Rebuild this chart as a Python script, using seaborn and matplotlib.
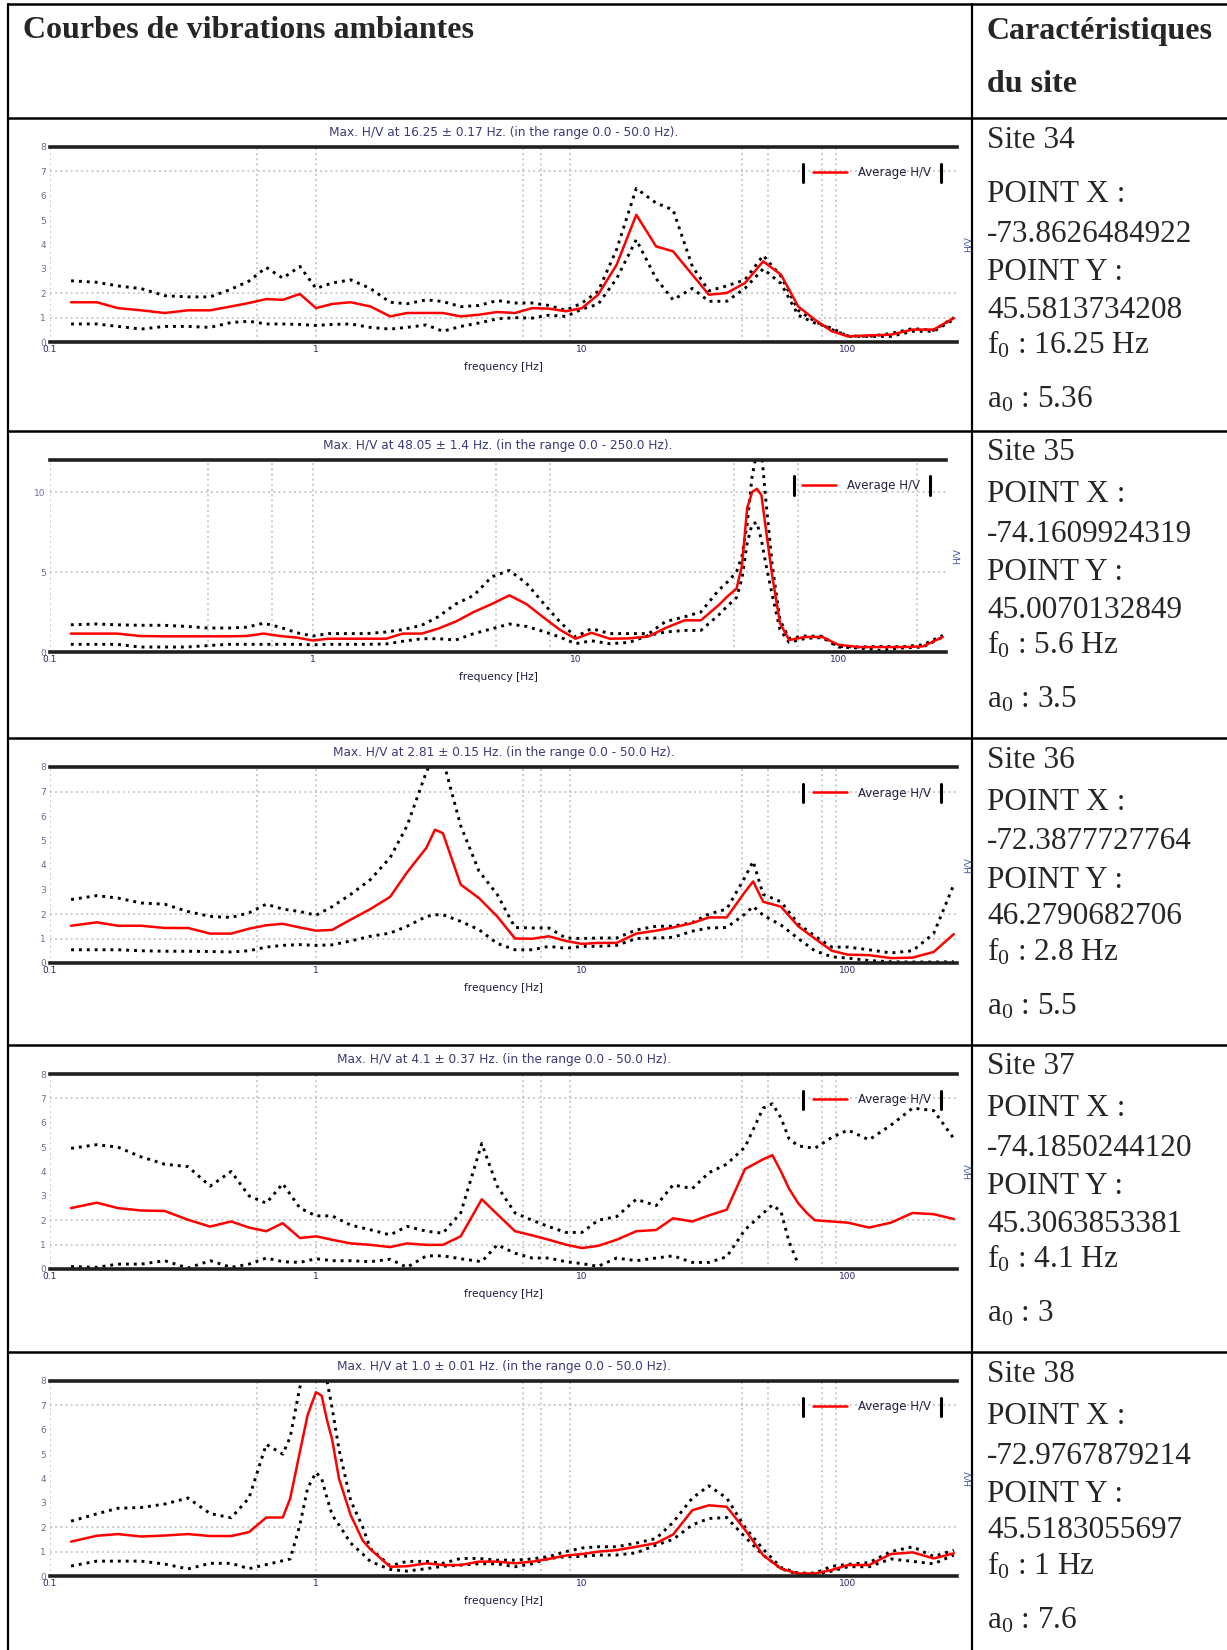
import numpy as np
import matplotlib
matplotlib.use('Agg')
import matplotlib.pyplot as plt
from matplotlib.lines import Line2D
from matplotlib.ticker import NullLocator
import seaborn as sns

nan = np.nan

# --- H/V curves (frequency in Hz, amplitude H/V) ---
freq_34 = [0.12, 0.15, 0.18, 0.22, 0.27, 0.33, 0.4, 0.48, 0.56, 0.65, 0.75, 0.87, 1.0, 1.15, 1.35, 1.6,
           1.9, 2.2, 2.6, 3.0, 3.5, 4.1, 4.8, 5.6, 6.5, 7.5, 8.7, 10, 11.5, 13.5, 16, 19, 22, 26, 30, 35,
           41, 48, 56, 65, 75, 87, 100, 120, 145, 175, 210, 250]
avg_34 = [1.63, 1.63, 1.39, 1.30, 1.19, 1.30, 1.30, 1.46, 1.60, 1.76, 1.73, 1.97, 1.39, 1.56, 1.63, 1.46,
          1.05, 1.19, 1.19, 1.19, 1.05, 1.12, 1.23, 1.19, 1.39, 1.37, 1.26, 1.39, 1.94, 3.17, 5.22, 3.92,
          3.72, 2.76, 1.94, 2.01, 2.42, 3.31, 2.76, 1.46, 0.92, 0.44, 0.23, 0.27, 0.30, 0.51, 0.51, 0.98]
hi_34 = [2.51, 2.45, 2.30, 2.19, 1.90, 1.85, 1.85, 2.17, 2.50, 3.06, 2.62, 3.10, 2.20, 2.42, 2.55, 2.20,
         1.63, 1.57, 1.73, 1.66, 1.45, 1.50, 1.70, 1.60, 1.60, 1.50, 1.30, 1.60, 2.08, 3.80, 6.30, 5.70,
         5.42, 3.10, 2.10, 2.30, 2.55, 3.55, 2.70, 1.30, 0.85, 0.51, 0.25, 0.23, 0.35, 0.55, 0.48, 1.00]
lo_34 = [0.74, 0.74, 0.64, 0.53, 0.64, 0.64, 0.60, 0.80, 0.85, 0.74, 0.74, 0.72, 0.68, 0.72, 0.74, 0.60,
         0.53, 0.60, 0.70, 0.44, 0.64, 0.78, 0.95, 1.00, 0.98, 1.10, 1.05, 1.35, 1.55, 2.60, 4.20, 2.60,
         1.73, 2.20, 1.67, 1.67, 2.20, 3.00, 2.40, 1.10, 0.78, 0.57, 0.23, 0.23, 0.23, 0.44, 0.44, 0.92]

freq_35 = [0.12, 0.15, 0.18, 0.22, 0.27, 0.33, 0.4, 0.48, 0.56, 0.65, 0.75, 0.87, 1.0, 1.15, 1.35, 1.6,
           1.9, 2.2, 2.6, 3.0, 3.5, 4.1, 4.8, 5.6, 6.5, 7.5, 8.7, 10, 11.5, 13.5, 16, 19, 22, 26, 30, 35,
           38, 41, 43, 45, 47, 49, 51, 53, 56, 60, 65, 75, 87, 100, 120, 145, 175, 210, 250]
avg_35 = [1.15, 1.15, 1.15, 1.0, 0.98, 0.98, 0.98, 0.98, 1.0, 1.15, 1.0, 0.9, 0.72, 0.83, 0.83, 0.83,
          0.83, 1.15, 1.15, 1.46, 1.9, 2.5, 3.0, 3.54, 3.0, 2.2, 1.4, 0.83, 1.2, 0.83, 0.85, 0.98, 1.5,
          1.98, 1.98, 2.92,
          3.5, 3.96, 5.4, 9.0, 10.0, 10.2, 9.8, 7.7, 4.8, 1.8, 0.75, 0.94, 0.94, 0.45, 0.31, 0.31, 0.31,
          0.35, 0.94]
hi_35 = [1.7, 1.75, 1.7, 1.67, 1.67, 1.6, 1.5, 1.5, 1.55, 1.8, 1.55, 1.2, 1.0, 1.15, 1.15, 1.15, 1.25,
         1.4, 1.67, 2.2, 3.0, 3.54, 4.7, 5.1, 4.3, 3.1, 1.9, 0.94, 1.46, 1.15, 1.15, 1.15, 1.9, 2.2, 2.5,
         3.85,
         4.4, 5.0, 6.0, 8.0, 11.0, 12.5, 12.5, 9.5, 5.5, 2.0, 0.85, 1.0, 0.98, 0.35, 0.31, 0.35, 0.33,
         0.45, 1.04]
lo_35 = [0.48, 0.48, 0.48, 0.31, 0.31, 0.31, 0.4, 0.48, 0.48, 0.48, 0.48, 0.48, 0.45, 0.48, 0.48, 0.48,
         0.5, 0.67, 0.83, 0.83, 0.75, 1.15, 1.45, 1.75, 1.6, 1.3, 0.94, 0.52, 0.7, 0.52, 0.6, 1.04, 1.25,
         1.35, 1.35, 2.3,
         2.9, 3.4, 4.6, 6.8, 8.0, 8.1, 7.0, 5.5, 3.6, 1.4, 0.6, 0.85, 0.9, 0.31, 0.25, 0.1, 0.25, 0.31,
         0.94]

freq_36 = [0.12, 0.15, 0.18, 0.22, 0.27, 0.33, 0.4, 0.48, 0.56, 0.65, 0.75, 0.87, 1.0, 1.15, 1.35, 1.6,
           1.9, 2.2, 2.6, 2.8, 3.0, 3.5, 4.1, 4.8, 5.6, 6.5, 7.5, 8.7, 10, 11.5, 13.5, 16, 19, 22, 26, 30,
           35, 41, 44, 48, 56, 65, 75, 87, 100, 120, 145, 175, 210, 250]
avg_36 = [1.52, 1.66, 1.52, 1.52, 1.43, 1.43, 1.2, 1.2, 1.4, 1.54, 1.6, 1.45, 1.32, 1.35, 1.77, 2.2,
          2.7, 3.7, 4.7, 5.44, 5.3, 3.2, 2.65, 1.9, 1.0, 0.99, 1.09, 0.9, 0.78, 0.82, 0.82, 1.2, 1.32,
          1.45, 1.63, 1.86, 1.86, 2.9, 3.33, 2.5, 2.3, 1.5, 1.0, 0.5, 0.34, 0.32, 0.2, 0.22, 0.45, 1.18]
hi_36 = [2.59, 2.75, 2.65, 2.45, 2.4, 2.1, 1.9, 1.86, 2.05, 2.4, 2.2, 2.1, 1.95, 2.3, 2.8, 3.4, 4.3,
         5.6, 7.8, 8.5, 8.3, 5.6, 3.75, 2.8, 1.45, 1.43, 1.43, 1.02, 1.0, 1.02, 1.02, 1.35, 1.5, 1.5,
         1.65, 2.0, 2.2, 3.5, 4.15, 2.8, 2.5, 1.6, 1.1, 0.65, 0.65, 0.54, 0.41, 0.5, 1.2, 3.2]
lo_36 = [0.54, 0.54, 0.54, 0.5, 0.48, 0.48, 0.47, 0.45, 0.5, 0.65, 0.72, 0.75, 0.72, 0.74, 0.9, 1.09,
         1.22, 1.5, 1.9, 1.97, 1.97, 1.7, 1.36, 0.8, 0.54, 0.54, 0.68, 0.6, 0.68, 0.68, 0.72, 1.0, 1.02,
         1.05, 1.3, 1.43, 1.45, 2.0, 2.31, 1.95, 1.55, 1.0, 0.5, 0.25, 0.2, 0.1, 0.05, 0.04, 0.04, 0.05]

freq_37 = [0.12, 0.15, 0.18, 0.22, 0.27, 0.33, 0.4, 0.48, 0.56, 0.65, 0.75, 0.87, 1.0, 1.15, 1.35, 1.6,
           1.9, 2.2, 2.6, 3.0, 3.5, 4.2, 4.8, 5.6, 6.5, 7.5, 8.7, 10, 11.5, 13.5, 16, 19, 22, 26, 30, 35,
           41, 48, 52, 56, 60, 65, 70, 75, 87, 100, 120, 145, 175, 210, 250]
avg_37 = [2.5, 2.72, 2.5, 2.4, 2.38, 2.02, 1.74, 1.95, 1.7, 1.55, 1.88, 1.27, 1.34, 1.2, 1.05, 0.99,
          0.9, 1.05, 0.99, 0.99, 1.34, 2.86, 2.25, 1.55, 1.38, 1.2, 1.0, 0.86, 0.95, 1.2, 1.55, 1.6,
          2.08, 1.95, 2.2, 2.43, 4.1, 4.5, 4.67, 4.0, 3.3, 2.7, 2.3, 2.0, 1.95, 1.9, 1.7, 1.9, 2.3, 2.25,
          2.05]
hi_37 = [4.95, 5.1, 5.0, 4.6, 4.3, 4.2, 3.4, 4.0, 3.0, 2.7, 3.5, 2.5, 2.18, 2.18, 1.8, 1.61, 1.4, 1.75,
         1.55, 1.47, 2.3, 5.15, 3.4, 2.3, 2.0, 1.74, 1.5, 1.5, 2.0, 2.15, 2.86, 2.6, 3.45, 3.3, 3.95, 4.3,
         5.0, 6.6, 6.78, 6.2, 5.35, 5.05, 5.0, 4.95, 5.4, 5.7, 5.3, 5.9, 6.6, 6.5, 5.35]
lo_37 = [0.1, 0.07, 0.2, 0.2, 0.34, 0.04, 0.34, 0.07, 0.2, 0.45, 0.3, 0.27, 0.42, 0.34, 0.34, 0.3, 0.4,
         0.07, 0.54, 0.54, 0.42, 0.3, 0.99, 0.65, 0.45, 0.45, 0.3, 0.22, 0.11, 0.45, 0.34, 0.45, 0.54,
         0.27, 0.27, 0.5, 1.61, 2.29, 2.63, 2.36, 1.13, 0.2, nan, nan, nan, nan, nan, nan, nan, nan, nan]

freq_38 = [0.12, 0.15, 0.18, 0.22, 0.27, 0.33, 0.4, 0.48, 0.56, 0.65, 0.75, 0.8, 0.87, 0.93, 1.0, 1.05,
           1.1, 1.15, 1.22, 1.35, 1.5, 1.6, 1.9, 2.2, 2.6, 3.0, 3.5, 4.1, 4.8, 5.6, 6.5, 7.5, 8.7, 10,
           11.5, 13.5, 16, 19, 22, 26, 30, 35, 41, 48, 56, 65, 75, 87, 100, 120, 145, 175, 210, 250]
avg_38 = [1.41, 1.65, 1.72, 1.62, 1.66, 1.72, 1.64, 1.64, 1.8, 2.4, 2.4, 3.18, 5.1, 6.6, 7.54, 7.4,
          6.4, 5.6, 4.0, 2.5, 1.45, 1.1, 0.38, 0.4, 0.52, 0.45, 0.45, 0.59, 0.59, 0.52, 0.59, 0.7, 0.84,
          0.9, 1.0, 1.06, 1.2, 1.35, 1.7, 2.7, 2.9, 2.84, 1.9, 0.85, 0.3, 0.1, 0.1, 0.25, 0.45, 0.45,
          0.9, 0.97, 0.72, 0.93]
hi_38 = [2.25, 2.55, 2.78, 2.81, 2.95, 3.2, 2.56, 2.39, 3.2, 5.4, 5.0, 5.7, 7.75, 8.5, 8.8, 8.5, 8.0,
         6.9, 5.2, 3.1, 2.0, 1.13, 0.42, 0.6, 0.6, 0.52, 0.72, 0.72, 0.65, 0.65, 0.7, 0.8, 1.0, 1.15,
         1.2, 1.2, 1.35, 1.54, 2.2, 3.2, 3.7, 3.2, 2.0, 1.1, 0.35, 0.12, 0.12, 0.4, 0.48, 0.55, 1.0,
         1.2, 0.8, 1.06]
lo_38 = [0.41, 0.61, 0.61, 0.61, 0.49, 0.29, 0.52, 0.52, 0.3, nan, nan, 0.7, 2.1, 3.6, 4.25, 4.0, 3.2,
         2.5, 2.1, 1.35, 0.9, 0.6, 0.27, 0.2, 0.3, 0.4, 0.45, 0.5, 0.5, 0.38, 0.5, 0.72, 0.79, 0.8,
         0.86, 0.86, 0.95, 1.27, 1.5, 2.1, 2.36, 2.4, 1.6, 0.86, 0.3, 0.07, 0.07, 0.2, 0.38, 0.38, 0.7,
         0.6, 0.5, 0.86]

# --- site characteristics (right column) ---
site_ids = ['34', '35', '36', '37', '38']
point_x = ['-73.8626484922', '-74.1609924319', '-72.3877727764', '-74.1850244120', '-72.9767879214']
point_y = ['45.5813734208', '45.0070132849', '46.2790682706', '45.3063853381', '45.5183055697']
f0_vals = ['16.25 Hz', '5.6 Hz', '2.8 Hz', '4.1 Hz', '1 Hz']
a0_vals = ['5.36', '3.5', '5.5', '3', '7.6']
plot_titles = [
    'Max. H/V at 16.25 \u00b1 0.17 Hz. (in the range 0.0 - 50.0 Hz).',
    'Max. H/V at 48.05 \u00b1 1.4 Hz. (in the range 0.0 - 250.0 Hz).',
    'Max. H/V at 2.81 \u00b1 0.15 Hz. (in the range 0.0 - 50.0 Hz).',
    'Max. H/V at 4.1 \u00b1 0.37 Hz. (in the range 0.0 - 50.0 Hz).',
    'Max. H/V at 1.0 \u00b1 0.01 Hz. (in the range 0.0 - 50.0 Hz).',
]

curves = [(freq_34, avg_34, hi_34, lo_34), (freq_35, avg_35, hi_35, lo_35),
          (freq_36, avg_36, hi_36, lo_36), (freq_37, avg_37, hi_37, lo_37),
          (freq_38, avg_38, hi_38, lo_38)]
for c in curves:
    assert len({len(v) for v in c}) == 1, [len(v) for v in c]

sns.set_style('white')
plt.rcParams['font.family'] = ['DejaVu Sans']
plt.rcParams['mathtext.fontset'] = 'custom'
plt.rcParams['mathtext.rm'] = 'Liberation Serif'
plt.rcParams['mathtext.it'] = 'Liberation Serif:italic'

W, H = 1227, 1650
fig = plt.figure(figsize=(W / 100, H / 100), dpi=100)
fig.patch.set_facecolor('white')


def fx(x):
    return x / W


def fy(y):
    return 1 - y / H


def hline(y, x0=8, x1=W, lw=1.8):
    fig.add_artist(Line2D([fx(x0), fx(x1)], [fy(y), fy(y)], color='black', lw=lw))


def vline(x, y0=4, y1=H, lw=1.6):
    fig.add_artist(Line2D([fx(x), fx(x)], [fy(y0), fy(y1)], color='black', lw=lw))


row_tops = [118, 431, 738, 1045, 1352]
col_x = 972

# table grid
hline(4)
for y in row_tops:
    hline(y)
vline(8)
vline(col_x)

serif = ['Liberation Serif', 'DejaVu Serif']
fig.text(fx(23), fy(31), 'Courbes de vibrations ambiantes', fontsize=23, fontweight='bold',
         family=serif, va='center')
fig.text(fx(987), fy(31), 'Caractéristiques', fontsize=23, fontweight='bold', family=serif, va='center')
fig.text(fx(987), fy(85), 'du site', fontsize=23, fontweight='bold', family=serif, va='center')

# text line offsets inside each row
line_off = [22, 64, 104, 142, 179, 214, 269]
extra_gap = [13, 0, 0, 0, 0]

for i, top in enumerate(row_tops):
    lines = ['Site ' + site_ids[i], 'POINT X :', point_x[i], 'POINT Y :', point_y[i],
             r'f$_\mathrm{0}$ : ' + f0_vals[i], r'a$_\mathrm{0}$ : ' + a0_vals[i]]
    for k, s in enumerate(lines):
        y = top + line_off[k] + (extra_gap[i] if k > 0 else 0)
        fig.text(fx(987), fy(y), s, fontsize=22.5, family=serif, va='center')

# per-plot axis settings
ymaxes = [8, 12, 8, 8, 8]
yticks_list = [list(range(9)), [0, 5, 10], list(range(9)), list(range(9)), list(range(9))]
hgrids = [[1, 2, 7], [5, 10], [1, 2, 7], [1, 2, 7], [1, 2, 7]]
vgrid_a = [0.1, 0.6, 1, 6, 7, 9, 40, 50, 80, 90]
vgrid_b = [0.1, 0.4, 0.7, 1, 5, 8, 40, 70, 200]
vgrids = [vgrid_a, vgrid_b, vgrid_a, vgrid_a, vgrid_a]
ax_right = [957, 946, 957, 957, 957]
ax_height = [195, 192, 196, 195, 195]

grid_kw = dict(color='#b9b9b9', lw=1.1, ls=(0, (1.2, 2.2)), zorder=0)

for i, top in enumerate(row_tops):
    freq, avg, hi, lo = curves[i]
    a_top = top + 29
    left = 50
    ax = fig.add_axes([fx(left), fy(a_top + ax_height[i]), (ax_right[i] - left) / W, ax_height[i] / H])
    ax.set_facecolor('white')

    for g in vgrids[i]:
        ax.axvline(g, **grid_kw)
    for g in hgrids[i]:
        ax.axhline(g, **grid_kw)

    sns.lineplot(x=freq, y=hi, ax=ax, color='black', lw=2.1, linestyle=(0, (1, 1.7)), estimator=None)
    sns.lineplot(x=freq, y=lo, ax=ax, color='black', lw=2.1, linestyle=(0, (1, 1.7)), estimator=None)
    sns.lineplot(x=freq, y=avg, ax=ax, color='red', lw=1.8, label='Average H/V', estimator=None)

    ax.set_xscale('log')
    ax.set_xlim(0.1, 257)
    ax.set_ylim(0, ymaxes[i])
    ax.set_xticks([0.1, 1, 10, 100])
    ax.set_xticklabels(['0.1', '1', '10', '100'])
    ax.xaxis.set_minor_locator(NullLocator())
    ax.set_yticks(yticks_list[i])
    ax.tick_params(axis='both', length=0, labelsize=6.5, pad=2)
    ax.tick_params(axis='x', labelcolor='#27276e')
    ax.tick_params(axis='y', labelcolor='#6b6b96', pad=3)
    for sp in ['left', 'right']:
        ax.spines[sp].set_visible(False)
    for sp in ['top', 'bottom']:
        ax.spines[sp].set_linewidth(2.6)
        ax.spines[sp].set_color('#202020')

    ax.set_xlabel('frequency [Hz]', fontsize=7.7, color='#1a1a40', labelpad=6)
    ax.set_ylabel('H/V', fontsize=6.5, color='#3d5a9c', labelpad=5)
    ax.yaxis.set_label_position('right')
    ax.set_title(plot_titles[i], fontsize=8.7, color='#3a3a7a', pad=8)

    leg = ax.legend(loc='center right', bbox_to_anchor=(0.971, 0.867), frameon=False, fontsize=8.5,
                    handlelength=2.9, handletextpad=0.9, borderaxespad=0, borderpad=0)
    for t in leg.get_texts():
        t.set_color('#202040')
    for bx in [0.830, 0.982]:
        ax.plot([bx, bx], [0.82, 0.915], transform=ax.transAxes, color='black', lw=2.2,
                clip_on=False)

fig.savefig('out.png', dpi=100, facecolor='white')
